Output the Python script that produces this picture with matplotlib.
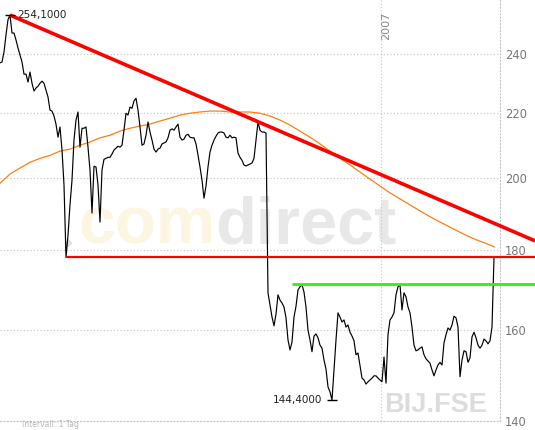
import matplotlib
matplotlib.use("Agg")
import matplotlib.pyplot as plt
from matplotlib.ticker import FixedLocator, FixedFormatter, NullLocator

# daily closing prices, day 0 = first trading day on the chart
close = [
    236.9, 237.2, 240.7, 246.8, 252.4, 254.1, 247.5, 247.5, 245.0, 242.1,
    239.6, 237.2, 233.0, 233.0, 230.3, 233.7, 229.9, 227.3, 228.3, 228.9,
    229.9, 230.6, 229.9, 227.6, 225.3, 221.0, 220.7, 219.1, 216.5, 212.4,
    215.6, 208.4, 198.0, 178.0, 183.9, 192.3, 199.4, 211.5, 217.8, 220.4,
    209.3, 215.2, 215.2, 215.6, 209.3, 202.4, 190.0, 203.5, 203.3, 198.0,
    187.5, 202.4, 205.6, 205.9, 206.2, 206.2, 207.2, 208.4, 209.0, 209.6,
    209.3, 209.9, 214.6, 220.0, 219.4, 222.0, 221.6, 224.0, 224.9, 221.0,
    215.6, 209.9, 210.3, 213.0, 217.2, 214.0, 211.5, 208.7, 207.8, 208.7,
    209.0, 210.3, 210.6, 210.9, 212.2, 214.6, 215.0, 214.6, 215.6, 216.5,
    212.4, 211.5, 211.8, 213.0, 213.3, 212.4, 212.2, 212.2, 210.3, 206.9,
    203.3, 199.4, 194.2, 197.7, 203.3, 207.8, 209.9, 211.5, 212.7, 213.7,
    214.0, 214.0, 213.7, 212.4, 212.2, 213.0, 212.2, 212.4, 212.2, 207.5,
    206.2, 205.3, 203.9, 203.6, 203.9, 204.2, 204.5, 205.9, 211.5, 217.2,
    214.6, 214.0, 214.0, 213.7, 169.0, 166.0, 163.1, 161.0, 163.8, 168.5,
    167.2, 166.5, 165.5, 162.9, 157.7, 155.4, 157.2, 163.1, 165.7, 169.7,
    170.5, 171.0, 169.2, 165.5, 160.0, 157.7, 155.0, 158.6, 159.1, 158.2,
    156.5, 155.8, 153.1, 151.1, 147.2, 146.1, 144.4, 150.9, 157.7, 164.1,
    163.1, 161.9, 162.4, 160.7, 161.2, 159.5, 158.6, 157.5, 154.3, 154.7,
    151.8, 149.1, 148.7, 147.8, 148.3, 148.7, 149.1, 149.6, 149.6, 149.1,
    148.7, 148.3, 153.8, 148.0, 158.9, 162.4, 163.1, 164.1, 168.5, 170.5,
    171.0, 164.8, 169.0, 168.0, 165.5, 164.1, 160.7, 156.5, 155.2, 155.4,
    155.8, 156.1, 154.3, 153.4, 152.9, 152.4, 150.9, 149.6, 150.9, 152.0,
    152.6, 152.0, 157.0, 158.9, 160.5, 160.0, 161.2, 163.3, 162.9, 160.7,
    149.4, 153.1, 155.2, 155.0, 152.6, 153.6, 158.4, 159.5, 158.2, 156.5,
    155.8, 156.5, 157.9, 157.5, 156.8, 157.5, 160.7, 178.0,
]
days = list(range(len(close)))

# moving average (orange), read every 5 days
ma_day = list(range(0, 246, 5)) + [247]
ma_value = [
    198.5, 201.2, 203.0, 204.7, 205.9, 206.8, 208.1, 208.7, 209.9, 210.9,
    212.2, 213.0, 214.3, 215.2, 215.9, 216.5, 217.5, 218.4, 219.4, 220.0,
    220.4, 220.7, 220.7, 220.4, 220.4, 220.4, 220.0, 219.1, 217.8, 216.2,
    214.3, 212.4, 210.3, 208.1, 205.9, 203.9, 201.8, 199.7, 197.7, 195.7,
    194.0, 192.3, 190.6, 189.0, 187.5, 186.1, 184.7, 183.4, 182.3, 181.3,
    180.8,
]

# drawn trend lines
trend_day = [5, 267.5]
trend_value = [254.1, 182.4]
support_day = [33, 267.5]
support_value = [178.0, 178.0]
neck_day = [146, 267.5]
neck_value = [171.1, 171.1]

high_day, high_value, high_label = 5, 254.1, "254,1000"
low_day, low_value, low_label = 166, 144.4, "144,4000"

y_ticks = [140, 160, 180, 200, 220, 240]
year_day = 190.5
year_label = "2007"

grid_col = "#c4c4c4"
dots = (0, (1, 2))

fig = plt.figure(figsize=(5.35, 4.3), dpi=100)
ax = fig.add_axes([0, 9 / 430, 500 / 535, 421 / 430])
ax.set_yscale("log")
ax.set_xlim(0, 250)
ax.set_ylim(140, 259.8)

# watermark
com = ax.text(39, 181.8, "com", fontsize=48, fontweight="bold",
              family="Liberation Sans",
              color="#fcf5e2", ha="left", va="baseline", zorder=0)
ax.annotate("direct", xy=(1, 0), xycoords=com, fontsize=48, fontweight="bold",
            family="Liberation Sans",
            color="#e8e8e8", ha="left", va="bottom", zorder=0)
ax.text(34, 182.0, "\u25c6", fontsize=8, color="#dedede", ha="center",
        va="center", zorder=0)
ax.text(192, 141.8, "BIJ.FSE", fontsize=19.5, fontweight="bold",
        family="Liberation Sans",
        color="#dcdcdc", ha="left", va="baseline", zorder=0)

# grid and frame
for t in y_ticks[1:]:
    ax.axhline(t, color=grid_col, lw=0.8, ls=dots, zorder=1)
ax.axvline(year_day, color=grid_col, lw=0.8, ls=dots, zorder=1)
for side in ["top", "left"]:
    ax.spines[side].set_visible(False)
for side in ["bottom", "right"]:
    ax.spines[side].set_color(grid_col)
    ax.spines[side].set_linestyle(dots)
    ax.spines[side].set_linewidth(0.8)

ax.yaxis.tick_right()
ax.yaxis.set_major_locator(FixedLocator(y_ticks))
ax.yaxis.set_major_formatter(FixedFormatter([str(t) for t in y_ticks]))
ax.yaxis.set_minor_locator(NullLocator())
ax.tick_params(axis="y", length=0, pad=3.5, labelsize=8.3, labelcolor="#777777")
ax.set_xticks([])

ax.text(year_day + 2.5, 0.938, year_label, transform=ax.get_xaxis_transform(),
        rotation=90, fontsize=8, color="#888888", ha="center", va="center")

# series
ax.plot(ma_day, ma_value, color="#ff7f10", lw=0.9, zorder=2)
ax.plot(days, close, color="black", lw=0.85, zorder=3)

ax.plot(trend_day, trend_value, color="#ff0000", lw=2.6, clip_on=False,
        solid_capstyle="butt", zorder=4)
ax.plot(support_day, support_value, color="#ff0000", lw=1.6, clip_on=False,
        solid_capstyle="butt", zorder=4)
ax.plot(neck_day, neck_value, color="#33ee11", lw=2.0, clip_on=False,
        solid_capstyle="butt", zorder=4)

# high / low markers
ax.plot([high_day, low_day], [high_value, low_value], ls="none", marker="_",
        ms=7.5, mew=1, color="black", zorder=5)
ax.annotate(high_label, xy=(high_day, high_value), xytext=(5, 0),
            textcoords="offset points", fontsize=7.5, color="#222222",
            ha="left", va="center")
ax.annotate(low_label, xy=(low_day, low_value), xytext=(-7.2, 0),
            textcoords="offset points", fontsize=7.5, color="#222222",
            ha="right", va="center")

fig.text(22 / 535, 1 / 430, "Intervall: 1 Tag", fontsize=5.5,
         color="#b8b8b8", ha="left", va="bottom")

fig.savefig("out.png", dpi=100)
